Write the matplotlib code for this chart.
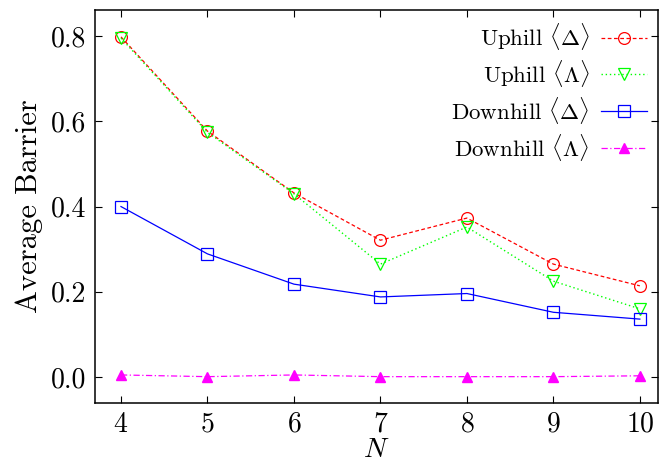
import numpy as np
import matplotlib
matplotlib.use("Agg")
import matplotlib.pyplot as plt

plt.rcParams['font.family'] = 'serif'
plt.rcParams['font.serif'] = ['cmr10']
plt.rcParams['mathtext.fontset'] = 'cm'
plt.rcParams['axes.formatter.use_mathtext'] = True

# data
n_vals = [4, 5, 6, 7, 8, 9, 10]
uphill_delta = [0.798, 0.577, 0.432, 0.321, 0.373, 0.265, 0.214]
uphill_lambda = [0.795, 0.574, 0.430, 0.265, 0.352, 0.225, 0.160]
downhill_delta = [0.400, 0.289, 0.218, 0.188, 0.196, 0.152, 0.136]
downhill_lambda = [0.005, 0.001, 0.005, 0.001, 0.001, 0.001, 0.003]

fig = plt.figure(figsize=(6.6, 4.66), dpi=100)
ax = fig.add_axes([0.144, 0.135, 0.853, 0.8435])

ax.plot(n_vals, uphill_delta, color='red', ls=(0, (3, 2)), lw=0.9,
        marker='o', ms=8.5, mfc='none', mec='red', mew=0.9,
        label=r'Uphill $\langle\Delta\rangle$')
ax.plot(n_vals, uphill_lambda, color='#00ff00', ls=(0, (1, 2)), lw=1.0,
        marker='v', ms=8.5, mfc='none', mec='#00ff00', mew=0.9,
        label=r'Uphill $\langle\Lambda\rangle$')
ax.plot(n_vals, downhill_delta, color='blue', ls='-', lw=0.9,
        marker='s', ms=8.5, mfc='none', mec='blue', mew=0.9,
        label=r'Downhill $\langle\Delta\rangle$')
ax.plot(n_vals, downhill_lambda, color='magenta', ls=(0, (5, 2, 1, 2)), lw=0.9,
        marker='^', ms=6.5, mfc='magenta', mec='magenta',
        label=r'Downhill $\langle\Lambda\rangle$')

ax.set_xlim(3.70, 10.21)
ax.set_ylim(-0.061, 0.861)
ax.set_xticks(n_vals)
ax.set_yticks([0.0, 0.2, 0.4, 0.6, 0.8])
ax.set_yticklabels(['0.0', '0.2', '0.4', '0.6', '0.8'])
ax.tick_params(direction='in', top=True, right=True, labelsize=20,
               length=5, width=0.8, pad=6)
for s in ax.spines.values():
    s.set_linewidth(1.1)

ax.set_xlabel(r'$N$', fontsize=20, labelpad=-1)
ax.set_ylabel('Average Barrier', fontsize=22, labelpad=6)

ax.legend(loc='upper right', frameon=False, markerfirst=False, fontsize=16.5,
          handlelength=2.0, labelspacing=0.25, borderaxespad=0.1,
          handletextpad=0.5)

fig.savefig('out.png', dpi=100)
